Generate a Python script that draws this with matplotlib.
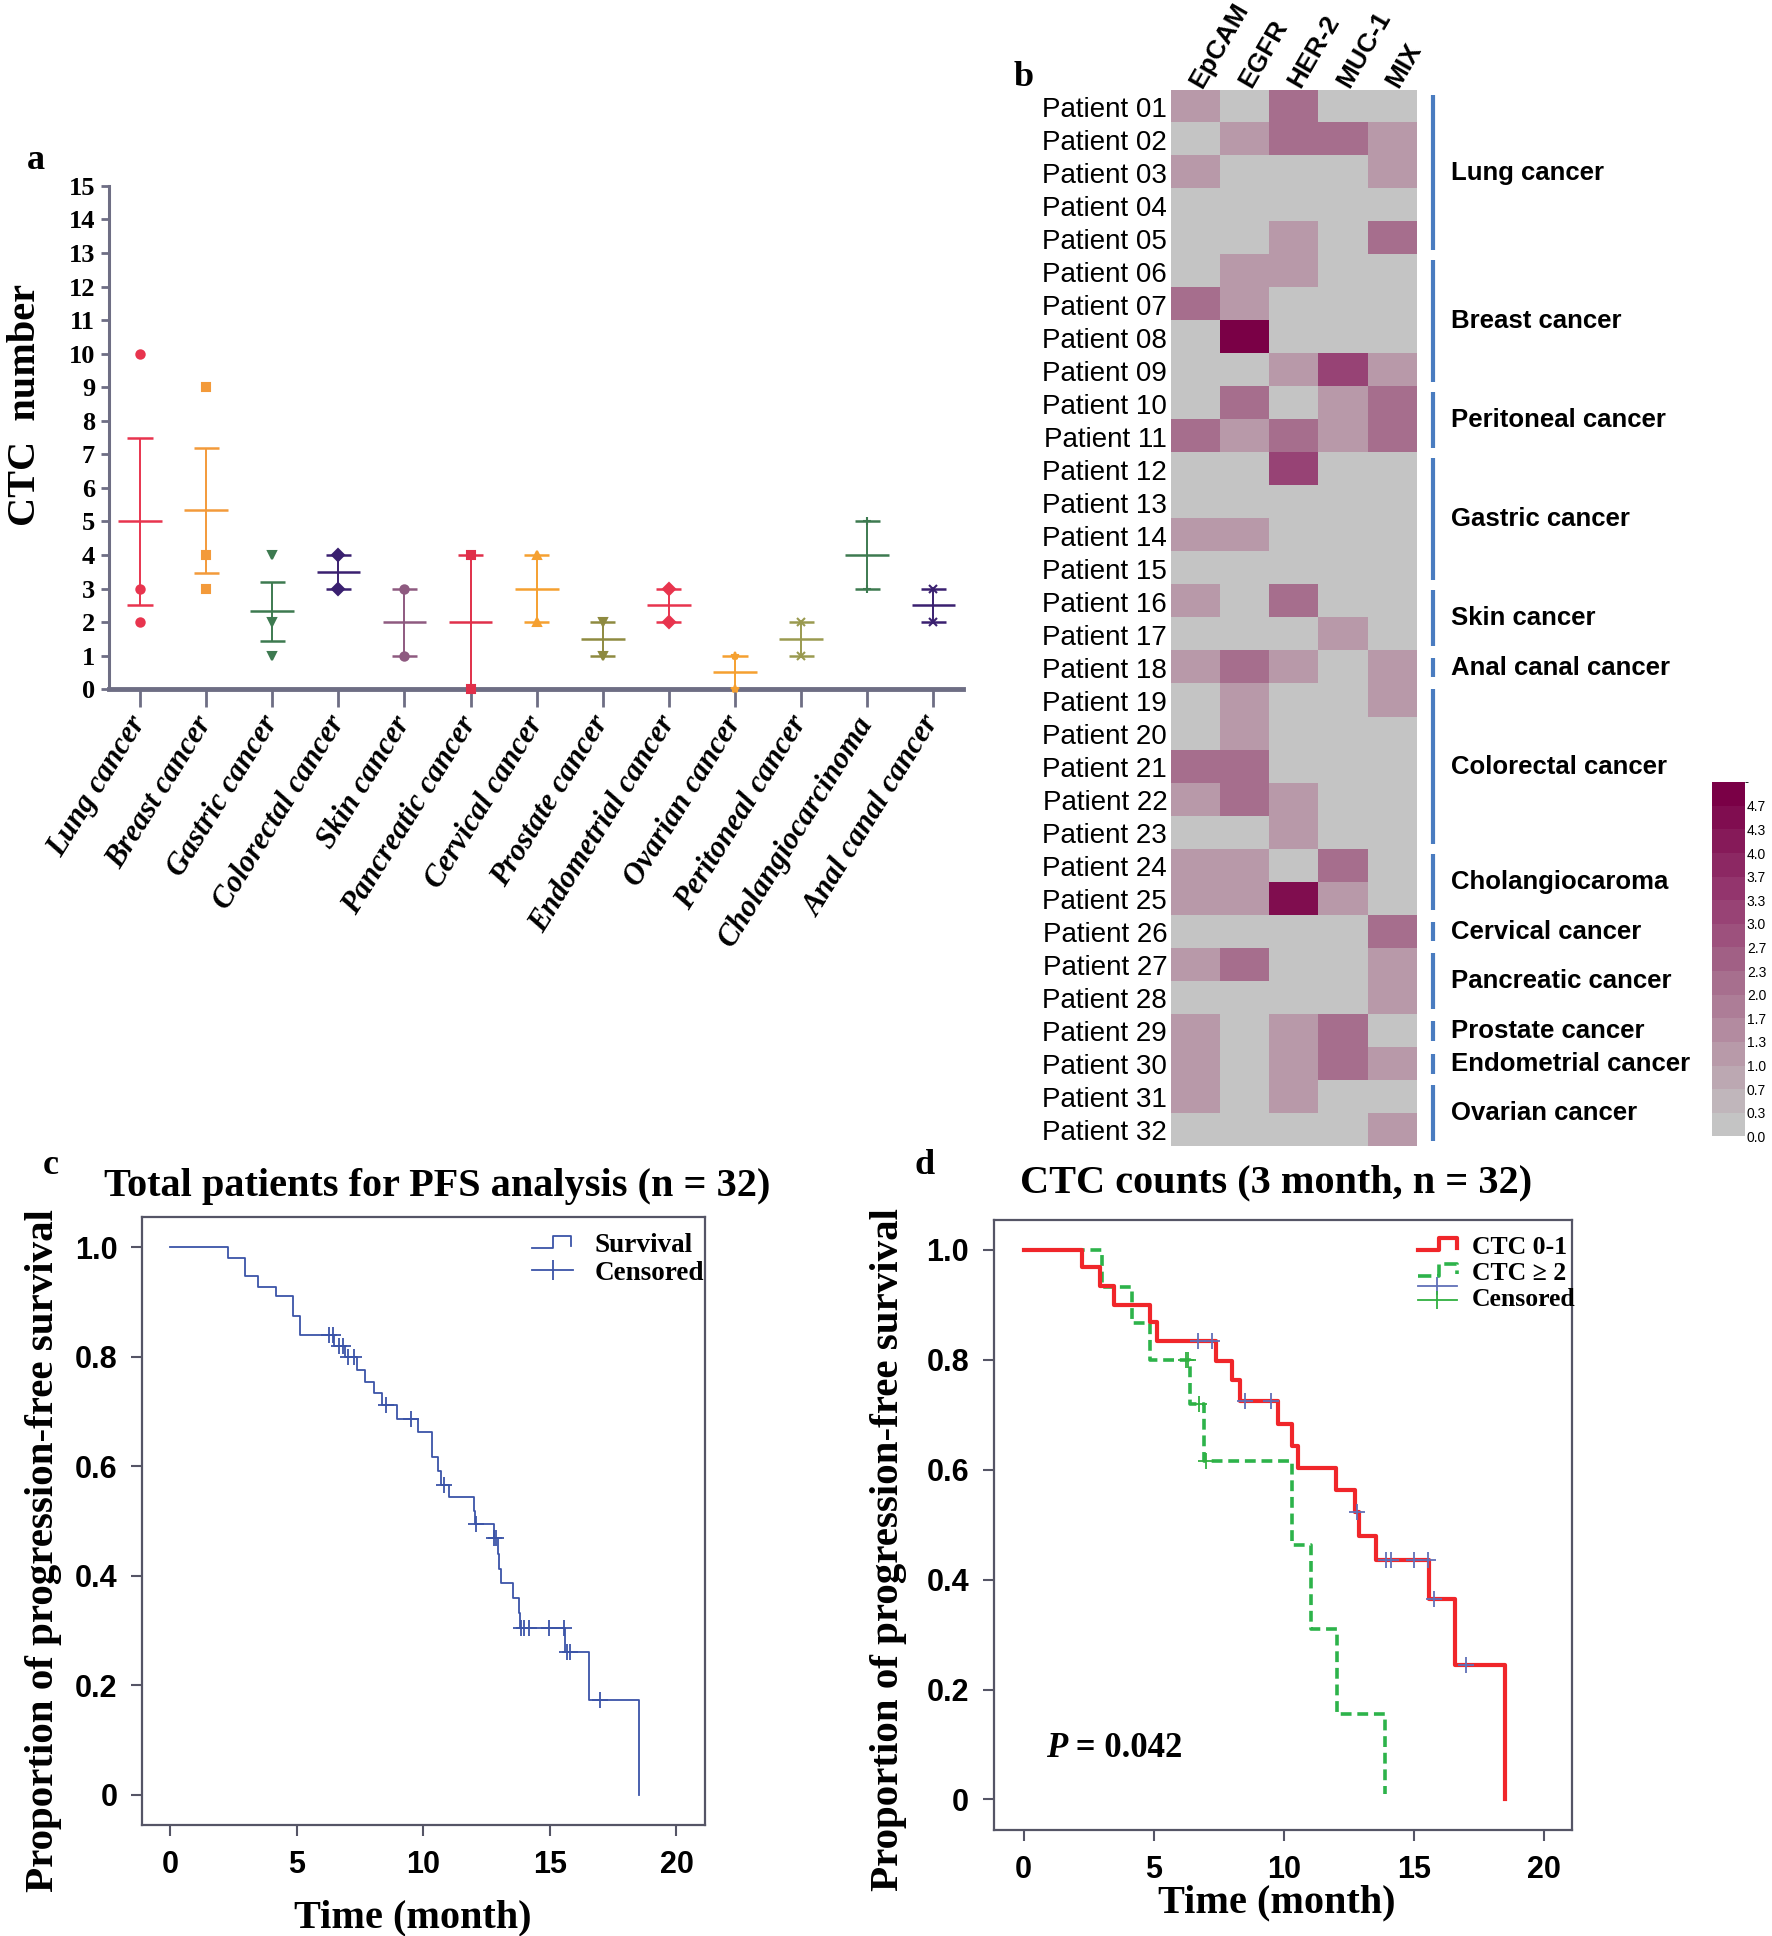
import numpy as np
import matplotlib
matplotlib.use("Agg")
import matplotlib.pyplot as plt
from matplotlib.colors import LinearSegmentedColormap, BoundaryNorm, ListedColormap
from matplotlib.cm import ScalarMappable
from matplotlib.lines import Line2D
from matplotlib.legend_handler import HandlerBase

SERIF = "Liberation Serif"
SANS = "Liberation Sans"

# ---- panel a: CTC number per cancer type ----
cancers = ["Lung cancer", "Breast cancer", "Gastric cancer", "Colorectal cancer",
           "Skin cancer", "Pancreatic cancer", "Cervical cancer", "Prostate cancer",
           "Endometrial cancer", "Ovarian cancer", "Peritoneal cancer",
           "Cholangiocarcinoma", "Anal canal cancer"]
ctc_mean = [5.0, 5.33, 2.33, 3.5, 2.0, 2.0, 3.0, 1.5, 2.5, 0.5, 1.5, 4.0, 2.5]
ctc_low = [2.5, 3.47, 1.45, 3.0, 1.0, 0.0, 2.0, 1.0, 2.0, 0.0, 1.0, 3.0, 2.0]
ctc_high = [7.5, 7.2, 3.2, 4.0, 3.0, 4.0, 4.0, 2.0, 3.0, 1.0, 2.0, 5.0, 3.0]
ctc_points = [[10, 3, 2], [9, 4, 3], [4, 2, 1], [4, 3], [3, 1], [4, 0], [4, 2],
              [2, 1], [3, 2], [1, 0], [2, 1], [5, 3], [3, 2]]
a_colors = ["#e8344e", "#f39a3a", "#3d7a50", "#3a2070", "#8e5a80", "#e0304a",
            "#f5a030", "#8e8a40", "#e8344e", "#f5a030", "#9a9a50", "#3d7a50", "#3a2070"]
a_markers = ["o", "s", "v", "D", "o", "s", "^", "v", "D", "*", "x", "+", "x"]

# ---- panel b: heatmap ----
markers_b = ["EpCAM", "EGFR", "HER-2", "MUC-1", "MIX"]
patients = ["Patient %02d" % i for i in range(1, 33)]
heat = [
    [1.1, 0, 2.2, 0, 0],
    [0, 1.1, 2.2, 2.2, 1.1],
    [1.1, 0, 0, 0, 1.1],
    [0, 0, 0, 0, 0],
    [0, 0, 1.1, 0, 2.2],
    [0, 1.1, 1.1, 0, 0],
    [2.2, 1.1, 0, 0, 0],
    [0, 4.9, 0, 0, 0],
    [0, 0, 1.1, 3.2, 1.1],
    [0, 2.2, 0, 1.1, 2.2],
    [2.2, 1.1, 2.2, 1.1, 2.2],
    [0, 0, 3.2, 0, 0],
    [0, 0, 0, 0, 0],
    [1.1, 1.1, 0, 0, 0],
    [0, 0, 0, 0, 0],
    [1.1, 0, 2.2, 0, 0],
    [0, 0, 0, 1.1, 0],
    [1.1, 2.2, 1.1, 0, 1.1],
    [0, 1.1, 0, 0, 1.1],
    [0, 1.1, 0, 0, 0],
    [2.2, 2.2, 0, 0, 0],
    [1.1, 2.2, 1.1, 0, 0],
    [0, 0, 1.1, 0, 0],
    [1.1, 1.1, 0, 2.2, 0],
    [1.1, 1.1, 4.4, 1.1, 0],
    [0, 0, 0, 0, 2.2],
    [1.1, 2.2, 0, 0, 1.1],
    [0, 0, 0, 0, 1.1],
    [1.1, 0, 1.1, 2.2, 0],
    [1.1, 0, 1.1, 2.2, 1.1],
    [1.1, 0, 1.1, 0, 0],
    [0, 0, 0, 0, 1.1],
]
groups = [("Lung cancer", 0, 4), ("Breast cancer", 5, 8), ("Peritoneal cancer", 9, 10),
          ("Gastric cancer", 11, 14), ("Skin cancer", 15, 16), ("Anal canal cancer", 17, 17),
          ("Colorectal cancer", 18, 22), ("Cholangiocaroma", 23, 24),
          ("Cervical cancer", 25, 25), ("Pancreatic cancer", 26, 27),
          ("Prostate cancer", 28, 28), ("Endometrial cancer", 29, 29),
          ("Ovarian cancer", 30, 31)]
cbar_labels = ["0.0", "0.3", "0.7", "1.0", "1.3", "1.7", "2.0", "2.3", "2.7",
               "3.0", "3.3", "3.7", "4.0", "4.3", "4.7"]

# ---- panel c: all patients KM ----
c_times = [0, 2.26, 2.96, 3.47, 4.18, 4.85, 5.13, 6.46, 6.9, 7.39, 7.68, 8.05, 8.36,
           8.94, 9.78, 10.33, 10.57, 10.7, 11.0, 12.0, 12.04, 12.77, 12.95, 13.0, 13.05,
           13.54, 13.76, 13.8, 15.6, 16.53, 18.52]
c_surv = [1.0, 0.98, 0.948, 0.928, 0.911, 0.874, 0.839, 0.82, 0.80, 0.775, 0.753, 0.733,
          0.711, 0.686, 0.662, 0.616, 0.592, 0.566, 0.543, 0.518, 0.494, 0.469, 0.44,
          0.413, 0.387, 0.359, 0.332, 0.304, 0.26, 0.173, 0.0]
c_cens = [6.28, 6.42, 6.68, 6.81, 7.0, 7.26, 8.5, 9.49, 10.8, 12.08, 12.8, 12.88,
          13.87, 13.98, 14.16, 14.98, 15.55, 15.69, 15.8, 16.99]

# ---- panel d: CTC 0-1 vs CTC >= 2 ----
r_times = [0, 2.23, 2.95, 3.48, 4.84, 5.11, 7.39, 8.01, 8.33, 9.78, 10.33, 10.54, 12.0,
           12.75, 12.9, 13.53, 15.58, 16.58, 18.5]
r_surv = [1.0, 0.968, 0.934, 0.899, 0.868, 0.834, 0.798, 0.763, 0.725, 0.684, 0.644,
          0.604, 0.563, 0.524, 0.479, 0.436, 0.365, 0.244, 0.0]
r_cens = [6.7, 7.23, 8.5, 9.49, 12.81, 13.93, 14.13, 15.02, 15.54, 15.78, 17.0]
g_times = [0, 2.99, 4.15, 4.84, 6.38, 6.94, 10.33, 11.05, 12.05, 13.88]
g_surv = [1.0, 0.933, 0.867, 0.80, 0.72, 0.616, 0.463, 0.31, 0.155, 0.01]
g_cens = [6.23, 6.32, 6.72, 7.0]


def surv_at(times, surv, t):
    i = np.searchsorted(times, t, side="right") - 1
    return np.array(surv)[i]


class StepHandler(HandlerBase):
    # little step icon like the KM legends in the paper
    def create_artists(self, legend, orig, xdescent, ydescent, width, height, fontsize, trans):
        xs = np.array([0.0, 0.5, 0.5, 0.95, 0.95]) * width - xdescent
        ys = np.array([0.2, 0.2, 0.85, 0.85, 0.3]) * height - ydescent
        ln = Line2D(xs, ys, color=orig.get_color(), lw=orig.get_linewidth(),
                    ls=orig.get_linestyle(), transform=trans)
        return [ln]


class TwoCensorHandler(HandlerBase):
    # blue and green censor marks stacked, one label
    def __init__(self, colors):
        super().__init__()
        self.colors = colors

    def create_artists(self, legend, orig, xdescent, ydescent, width, height, fontsize, trans):
        arts = []
        for col, yf in zip(self.colors, [1.12, 0.3]):
            xs = np.array([0.0, 0.95]) * width - xdescent
            ys = np.array([yf, yf]) * height - ydescent
            ln = Line2D(xs, ys, color=col, lw=1.3, transform=trans)
            mk = Line2D([xs.mean()], [ys[0]], color=col, marker="|", ms=13, mew=1.3,
                        ls="none", transform=trans)
            arts += [ln, mk]
        return arts


fig = plt.figure(figsize=(17.72, 19.36), dpi=100)

# ================= panel a =================
ax = fig.add_axes([0.0615, 0.644, 0.482, 0.260])
axis_col = "#6e6e84"
for i in range(len(cancers)):
    col = a_colors[i]
    ax.hlines(ctc_mean[i], i - 0.33, i + 0.33, color=col, lw=1.8)
    ax.vlines(i, ctc_low[i], ctc_high[i], color=col, lw=1.4)
    ax.hlines([ctc_low[i], ctc_high[i]], i - 0.19, i + 0.19, color=col, lw=1.8)
    ax.plot([i] * len(ctc_points[i]), ctc_points[i], ls="none", marker=a_markers[i],
            color=col, ms=6, mew=1.5, clip_on=False, zorder=3)
ax.set_xlim(-0.47, 12.45)
ax.set_ylim(0, 15)
ax.set_yticks(range(16))
ax.set_yticklabels([str(v) for v in range(16)], fontfamily=SERIF, fontweight="bold", fontsize=19)
ax.set_xticks(range(len(cancers)))
ax.set_xticklabels(cancers, rotation=58, ha="right", va="center", rotation_mode="anchor",
                   fontfamily=SERIF, fontweight="bold", fontstyle="italic", fontsize=22)
ax.tick_params(axis="x", length=13, width=2, color=axis_col, pad=8)
ax.tick_params(axis="y", length=6, width=2, color=axis_col, pad=4)
for s in ["top", "right"]:
    ax.spines[s].set_visible(False)
ax.spines["bottom"].set_linewidth(3.5)
ax.spines["bottom"].set_color(axis_col)
ax.spines["left"].set_linewidth(2.2)
ax.spines["left"].set_color(axis_col)
ax.set_ylabel("CTC  number", fontfamily=SERIF, fontweight="bold", fontsize=29)
ax.yaxis.set_label_coords(-0.076, 0.565)
fig.text(0.0152, 0.917, "a", fontfamily=SERIF, fontweight="bold", fontsize=26, va="center")

# ================= panel b =================
cmap_base = LinearSegmentedColormap.from_list(
    "hm", [(0.0, "#c4c4c4"), (0.22, "#b898a8"), (0.45, "#a56a8b"), (0.7, "#94386f"), (1.0, "#7a0046")])
bounds = np.linspace(0, 5, 16)
cmap = ListedColormap(cmap_base(np.linspace(0, 1, 15)))
norm = BoundaryNorm(bounds, cmap.N)

axb = fig.add_axes([0.661, 0.408, 0.1388, 0.5455])
axb.imshow(np.array(heat), cmap=cmap, norm=norm, aspect="auto", interpolation="nearest")
axb.set_xlim(-0.5, 4.5)
axb.set_ylim(31.5, -0.5)
axb.set_yticks(range(32))
axb.set_yticklabels(patients, fontfamily=SANS, fontsize=20)
axb.xaxis.tick_top()
axb.set_xticks(range(5))
axb.set_xticklabels(markers_b, rotation=60, ha="left", va="center", rotation_mode="anchor",
                    fontfamily=SANS, fontweight="bold", fontsize=19)
axb.tick_params(length=0, pad=3)
for s in axb.spines.values():
    s.set_visible(False)
for name, r0, r1 in groups:
    pad = 0.15 if r1 > r0 else 0.2
    axb.plot([4.82, 4.82], [r0 - 0.5 + pad, r1 + 0.5 - pad], color="#4a7cc0", lw=3,
             clip_on=False, solid_capstyle="butt")
    axb.text(5.19, (r0 + r1) / 2, name, fontfamily=SANS, fontweight="bold", fontsize=18.5,
             va="center", ha="left", clip_on=False)
fig.text(0.572, 0.960, "b", fontfamily=SERIF, fontweight="bold", fontsize=26, va="center")

cax = fig.add_axes([0.966, 0.413, 0.019, 0.183])
cb = fig.colorbar(ScalarMappable(norm=norm, cmap=cmap), cax=cax, ticks=bounds[:-1])
cb.ax.set_yticklabels(cbar_labels, fontfamily=SANS, fontsize=10)
cb.ax.tick_params(length=0, pad=1)
cb.outline.set_visible(False)


def km_axes(rect):
    a = fig.add_axes(rect)
    for s in a.spines.values():
        s.set_color("#555566")
        s.set_linewidth(1.6)
    a.set_xticks([0, 5, 10, 15, 20])
    a.set_yticks([0, 0.2, 0.4, 0.6, 0.8, 1.0])
    a.set_yticklabels(["0", "0.2", "0.4", "0.6", "0.8", "1.0"])
    a.tick_params(direction="out", length=8, width=1.5, color="#555566", pad=10)
    for lab in a.get_xticklabels() + a.get_yticklabels():
        lab.set_fontfamily(SANS)
        lab.set_fontweight("bold")
        lab.set_fontsize(22)
    a.set_ylabel("Proportion of progression-free survival", fontfamily=SERIF,
                 fontweight="bold", fontsize=29.5)
    a.set_xlabel("Time (month)", fontfamily=SERIF, fontweight="bold", fontsize=29)
    return a


# ================= panel c =================
axc = km_axes([0.0804, 0.0573, 0.3175, 0.3143])
blue = "#3b54a8"
axc.step(c_times, c_surv, where="post", color=blue, lw=1.3)
axc.plot(c_cens, surv_at(c_times, c_surv, c_cens), ls="none", marker="+", ms=12,
         mew=1.3, color=blue)
axc.set_xlim(-1.106, 21.13)
axc.set_ylim(-0.0557, 1.056)
axc.yaxis.set_label_coords(-0.143, 0.452)
axc.xaxis.set_label_coords(0.48, -0.122)
axc.text(0.524, 1.05, "Total patients for PFS analysis (n = 32)", transform=axc.transAxes,
         ha="center", va="center", fontfamily=SERIF, fontweight="bold", fontsize=29)
h_surv = Line2D([], [], color=blue, lw=1.3)
h_cens = Line2D([], [], color=blue, lw=1.3, marker="|", ms=14, mew=1.3)
axc.legend([h_surv, h_cens], ["Survival", "Censored"], loc="upper right",
           bbox_to_anchor=(1.027, 1.0), handler_map={h_surv: StepHandler()}, frameon=False,
           prop={"family": SERIF, "weight": "bold", "size": 19.5},
           borderaxespad=0.2, handlelength=1.5, handletextpad=0.8, labelspacing=0.1)
fig.text(0.024, 0.398, "c", fontfamily=SERIF, fontweight="bold", fontsize=26, va="center")

# ================= panel d =================
axd = km_axes([0.561, 0.0549, 0.326, 0.3151])
red = "#f0262a"
green = "#2db34a"
axd.step(g_times, g_surv, where="post", color=green, lw=2.6, ls=(0, (3, 1.6)))
axd.step(r_times, r_surv, where="post", color=red, lw=3)
axd.plot(r_cens, surv_at(r_times, r_surv, r_cens), ls="none", marker="+", ms=12,
         mew=1.3, color="#6070b8", zorder=4)
axd.plot(g_cens, surv_at(g_times, g_surv, g_cens), ls="none", marker="+", ms=12,
         mew=1.3, color="#30b040", zorder=4)
axd.set_xlim(-1.14, 21.07)
axd.set_ylim(-0.055, 1.055)
axd.yaxis.set_label_coords(-0.151, 0.46)
axd.xaxis.set_label_coords(0.49, -0.09)
axd.text(0.488, 1.06, "CTC counts (3 month, n = 32)", transform=axd.transAxes,
         ha="center", va="center", fontfamily=SERIF, fontweight="bold", fontsize=29)
p_txt = axd.text(0.85, 0.093, "P", fontfamily=SERIF, fontweight="bold", fontstyle="italic",
                 fontsize=25, va="center", ha="left")
axd.annotate(" = 0.042", xy=(1, 0), xycoords=p_txt, va="bottom", ha="left",
             fontfamily=SERIF, fontweight="bold", fontsize=25)
h_r = Line2D([], [], color=red, lw=3)
h_g = Line2D([], [], color=green, lw=2.6, ls=(0, (2, 1.2)))
h_c2 = Line2D([], [], color="#30b040")
axd.legend([h_r, h_g, h_c2], ["CTC 0-1", "CTC \u2265 2", "Censored"],
           loc="upper right", bbox_to_anchor=(1.029, 0.995),
           handler_map={h_r: StepHandler(), h_g: StepHandler(),
                        h_c2: TwoCensorHandler(["#6070b8", "#30b040"])},
           frameon=False, prop={"family": SERIF, "weight": "bold", "size": 18.5},
           borderaxespad=0.1, handlelength=1.6, handletextpad=0.5, labelspacing=0.12)
fig.text(0.516, 0.398, "d", fontfamily=SERIF, fontweight="bold", fontsize=26, va="center")

fig.savefig("out.png", dpi=100)
